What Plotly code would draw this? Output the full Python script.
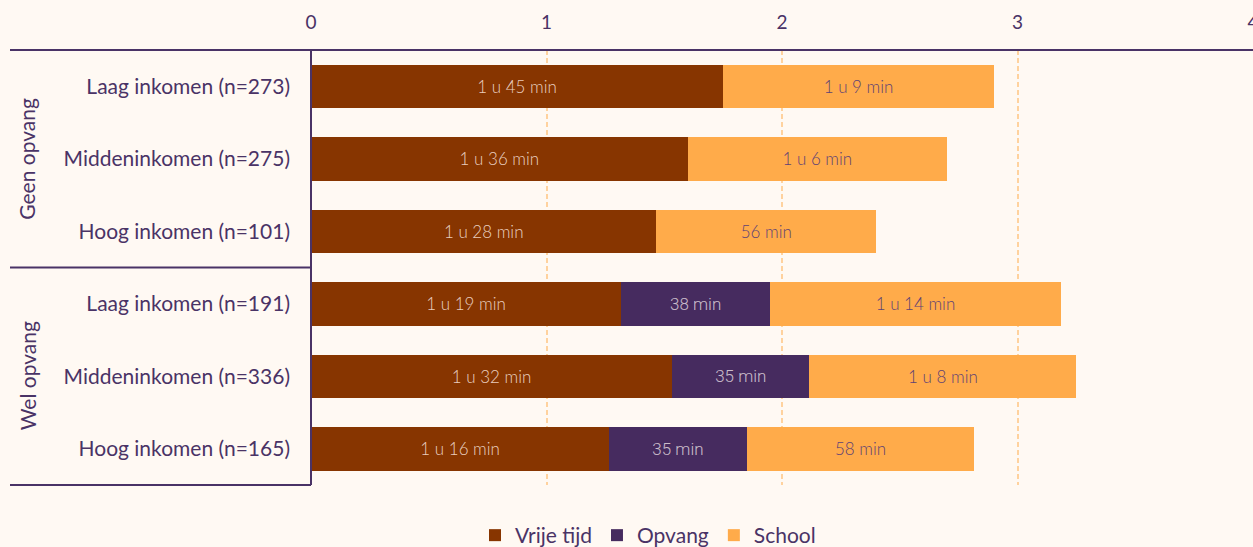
import plotly.graph_objects as go

categories = [
    "Laag inkomen (n=273)", "Middeninkomen (n=275)", "Hoog inkomen (n=101)",
    "Laag inkomen (n=191)", "Middeninkomen (n=336)", "Hoog inkomen (n=165)",
]
groups = ["Geen opvang", "Wel opvang"]
# minutes per day
vrije_tijd = [105, 96, 88, 79, 92, 76]
opvang = [None, None, None, 38, 35, 35]
school = [69, 66, 56, 74, 68, 58]
x_ticks = [0, 1, 2, 3, 4]

BG = "#FFF9F3"
TXT = "#4A3366"
C_VRIJ = "#873500"
C_OPV = "#462B5F"
C_SCH = "#FFAB4A"


def fmt(m):
    if m is None:
        return ""
    h, r = divmod(int(m), 60)
    return f"{h} u {r} min" if h else f"{r} min"


def hours(vals):
    return [None if v is None else v / 60 for v in vals]


fig = go.Figure()
series = [
    ("Vrije tijd", vrije_tijd, C_VRIJ, "rgba(255,236,226,0.85)", "Lato"),
    ("Opvang", opvang, C_OPV, "rgba(255,245,245,0.72)", "Roboto"),
    ("School", school, C_SCH, "#5E4275", "Lato"),
]
for name, vals, col, tcol, fam in series:
    fig.add_trace(go.Bar(
        y=categories, x=hours(vals), name=name, orientation="h",
        marker=dict(color=col, line=dict(width=0)),
        text=[fmt(v) for v in vals], textposition="inside",
        insidetextanchor="middle", textangle=0, constraintext="none",
        textfont=dict(family=fam, size=17, color=tcol, weight=300),
        hoverinfo="skip",
    ))

W, H = 1253, 556          # taller than the 547 window so the legend sits low
ml, mt, mr = 311, 50, 0
plot_bottom_px = 485
pw = W - ml - mr
full_h = H - mt  # paper area height (bottom margin 0)
dom_lo = (H - plot_bottom_px) / full_h


def px2paper_x(px):
    return (px - ml) / pw


line_col = "#4A3366"
shapes = [
    dict(type="line", xref="paper", yref="y domain", x0=px2paper_x(10), x1=1.0, y0=1, y1=1,
         line=dict(color=line_col, width=2)),
    dict(type="line", xref="paper", yref="y domain", x0=px2paper_x(10), x1=0, y0=0, y1=0,
         line=dict(color=line_col, width=2)),
    dict(type="line", xref="paper", yref="y domain", x0=px2paper_x(10), x1=0, y0=0.5, y1=0.5,
         line=dict(color=line_col, width=2)),
    dict(type="line", xref="paper", yref="y domain", x0=0, x1=0, y0=0, y1=1,
         line=dict(color=line_col, width=2)),
]

annotations = [
    dict(text=groups[0], xref="paper", yref="y domain", x=px2paper_x(27), y=0.75,
         textangle=-90, showarrow=False, xanchor="center", yanchor="middle",
         font=dict(family="Lato", size=21, color=TXT)),
    dict(text=groups[1], xref="paper", yref="y domain", x=px2paper_x(27), y=0.25,
         textangle=-90, showarrow=False, xanchor="center", yanchor="middle",
         font=dict(family="Lato", size=21, color=TXT)),
]

fig.update_layout(
    width=W, height=H,
    margin=dict(l=ml, r=mr, t=mt, b=0, pad=0),
    paper_bgcolor=BG, plot_bgcolor=BG,
    barmode="stack", bargap=0.4,
    showlegend=True,
    legend=dict(orientation="h", x=px2paper_x(648), xanchor="center",
                y=0, yanchor="bottom",
                font=dict(family="Lato", size=21, color=TXT),
                bgcolor="rgba(0,0,0,0)", itemwidth=30, traceorder="normal"),
    xaxis=dict(side="top", range=[0, 4], tickvals=x_ticks,
               ticktext=[str(t) for t in x_ticks],
               showgrid=True, gridcolor="#FFD29E", griddash="5px,3px", gridwidth=2,
               zeroline=False, showline=False, ticks="",
               tickfont=dict(family="Lato", size=19, color=TXT),
               ticklabeloverflow="allow", automargin=False,
               ticklabelstandoff=16, fixedrange=True),
    yaxis=dict(autorange="reversed", showgrid=False, zeroline=False,
               showline=False, ticks="", domain=[dom_lo, 1],
               tickfont=dict(family="Lato", size=21, color=TXT),
               ticklabelstandoff=20, fixedrange=True),
    shapes=shapes, annotations=annotations,
    font=dict(family="Lato", color=TXT),
)

fig.write_html(
    "out.html",
    config={"displayModeBar": False, "staticPlot": True},
    post_script="document.body.style.margin='0';document.body.style.background='#FFF9F3';document.body.style.overflow='hidden';",
)
